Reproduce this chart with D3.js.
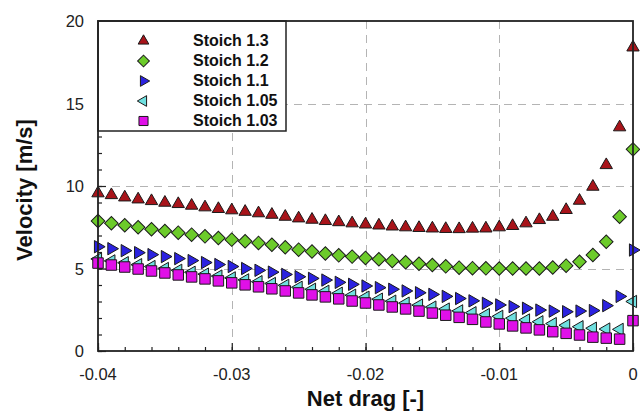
<!DOCTYPE html>
<html>
<head>
<meta charset="utf-8">
<script src="https://d3js.org/d3.v7.min.js"></script>
<style>
	body { margin: 0; background: #fff; }
	svg { display: block; font-family: "Liberation Sans", Arial, sans-serif; }
</style>
</head>
<body>
<svg id="chart" width="640" height="412"></svg>
<script>
(function(){

// net drag, -0.04 .. 0 in steps of 0.001
var netDrag = [
	-0.040, -0.039, -0.038, -0.037, -0.036, -0.035, -0.034, -0.033, -0.032, -0.031,
	-0.030, -0.029, -0.028, -0.027, -0.026, -0.025, -0.024, -0.023, -0.022, -0.021,
	-0.020, -0.019, -0.018, -0.017, -0.016, -0.015, -0.014, -0.013, -0.012, -0.011,
	-0.010, -0.009, -0.008, -0.007, -0.006, -0.005, -0.004, -0.003, -0.002, -0.001, 0
];

var stoich13 = [
	9.56, 9.45, 9.31, 9.19, 9.09, 8.99, 8.91, 8.81, 8.71, 8.61,
	8.53, 8.44, 8.35, 8.26, 8.14, 8.04, 7.96, 7.88, 7.81, 7.74,
	7.67, 7.61, 7.55, 7.50, 7.46, 7.43, 7.40, 7.39, 7.42, 7.43,
	7.50, 7.58, 7.74, 7.94, 8.14, 8.55, 9.11, 9.96, 11.27, 13.56, 18.4
];
var stoich12 = [
	7.88, 7.74, 7.62, 7.50, 7.38, 7.27, 7.17, 7.05, 6.95, 6.85,
	6.75, 6.65, 6.55, 6.44, 6.29, 6.14, 6.03, 5.91, 5.80, 5.72,
	5.64, 5.56, 5.46, 5.38, 5.29, 5.21, 5.13, 5.05, 5.02, 5.01,
	5.00, 5.00, 5.00, 5.00, 5.06, 5.17, 5.41, 5.82, 6.62, 8.14, 12.22
];
var stoich11 = [
	6.32, 6.20, 6.08, 5.96, 5.84, 5.72, 5.60, 5.48, 5.36, 5.24,
	5.12, 5.00, 4.89, 4.78, 4.64, 4.50, 4.40, 4.30, 4.16, 4.04,
	3.94, 3.84, 3.74, 3.64, 3.53, 3.43, 3.31, 3.18, 3.04, 2.89,
	2.79, 2.69, 2.59, 2.48, 2.42, 2.38, 2.42, 2.45, 2.75, 3.31, 6.12
];
var stoich105 = [
	5.58, 5.46, 5.35, 5.23, 5.12, 5.00, 4.89, 4.77, 4.66, 4.54,
	4.43, 4.31, 4.20, 4.09, 3.98, 3.86, 3.74, 3.62, 3.50, 3.38,
	3.26, 3.14, 3.02, 2.90, 2.78, 2.66, 2.54, 2.43, 2.32, 2.21,
	2.10, 1.99, 1.88, 1.77, 1.66, 1.56, 1.47, 1.38, 1.33, 1.31, 3.00
];
var stoich103 = [
	5.33, 5.21, 5.09, 4.97, 4.85, 4.73, 4.61, 4.49, 4.37, 4.25,
	4.13, 4.01, 3.89, 3.77, 3.64, 3.52, 3.40, 3.28, 3.16, 3.03,
	2.91, 2.79, 2.67, 2.55, 2.42, 2.30, 2.17, 2.04, 1.92, 1.76,
	1.64, 1.52, 1.40, 1.28, 1.17, 1.07, 0.97, 0.84, 0.78, 0.72, 1.84
];

var seriesNames = ["Stoich 1.3", "Stoich 1.2", "Stoich 1.1", "Stoich 1.05", "Stoich 1.03"];
var seriesValues = [stoich13, stoich12, stoich11, stoich105, stoich103];
var seriesColors = ["#a8141a", "#6ccb2a", "#2b22e0", "#6fe0e0", "#e010e8"];
var seriesShapes = ["up", "diamond", "right", "left", "square"];

var xTicks = [-0.04, -0.03, -0.02, -0.01, 0];
var xTickLabels = ["-0.04", "-0.03", "-0.02", "-0.01", "0"];
var yTicks = [0, 5, 10, 15, 20];


var margin = { left: 98, right: 7, top: 21, bottom: 61 };
var W = 640, H = 412;

var svg = d3.select("#chart");

var x = d3.scaleLinear().domain([-0.04, 0]).range([margin.left, W - margin.right]);
var y = d3.scaleLinear().domain([0, 20]).range([H - margin.bottom, margin.top]);

var x0 = x.range()[0], x1 = x.range()[1];
var y0 = y.range()[0], y1 = y.range()[1];

// dashed grid
var grid = svg.append("g").attr("class", "grid")
	.attr("stroke", "#b4b4b4")
	.attr("stroke-width", 1)
	.attr("stroke-dasharray", "8,6");

grid.selectAll("line.gx")
	.data(xTicks.slice(1, -1))
	.enter().append("line")
	.attr("class", "gx")
	.attr("x1", function(d) { return Math.round(x(d)) + 0.5; })
	.attr("x2", function(d) { return Math.round(x(d)) + 0.5; })
	.attr("y1", y0)
	.attr("y2", y1);

grid.selectAll("line.gy")
	.data(yTicks.slice(1, -1))
	.enter().append("line")
	.attr("class", "gy")
	.attr("y1", function(d) { return Math.round(y(d)) + 0.5; })
	.attr("y2", function(d) { return Math.round(y(d)) + 0.5; })
	.attr("x1", x0)
	.attr("x2", x1);

// axes, ticks pointing inward
var xMinor = d3.range(-0.04, 0.0001, 0.002);
var yMinor = d3.range(0, 20.001, 1);

var xAxisMinor = d3.axisTop(x).tickValues(xMinor).tickSize(4).tickFormat("");
var xAxisMajor = d3.axisTop(x).tickValues(xTicks).tickSize(8).tickFormat("");
var yAxisMinor = d3.axisRight(y).tickValues(yMinor).tickSize(4).tickFormat("");
var yAxisMajor = d3.axisRight(y).tickValues(yTicks).tickSize(8).tickFormat("");

function styleAxis(g) {
	g.select(".domain").remove();
	g.selectAll(".tick line").attr("stroke", "#222").attr("stroke-width", 1.2);
}

svg.append("g").attr("transform", "translate(0," + y0 + ")").call(xAxisMinor).call(styleAxis);
svg.append("g").attr("transform", "translate(0," + y0 + ")").call(xAxisMajor).call(styleAxis);
svg.append("g").attr("transform", "translate(" + x0 + ",0)").call(yAxisMinor).call(styleAxis);
svg.append("g").attr("transform", "translate(" + x0 + ",0)").call(yAxisMajor).call(styleAxis);

// tick labels
svg.append("g").selectAll("text")
	.data(xTicks)
	.enter().append("text")
	.attr("x", function(d) { return x(d); })
	.attr("y", 380)
	.attr("text-anchor", "middle")
	.attr("font-size", 16.5)
	.attr("fill", "#222")
	.text(function(d, i) { return xTickLabels[i]; });

svg.append("g").selectAll("text")
	.data(yTicks)
	.enter().append("text")
	.attr("x", x0 - 14)
	.attr("y", function(d) { return y(d) + 6; })
	.attr("text-anchor", "end")
	.attr("font-size", 16.5)
	.attr("fill", "#222")
	.text(function(d) { return d; });

// axis titles
svg.append("text")
	.attr("x", (x0 + x1) / 2)
	.attr("y", 406)
	.attr("text-anchor", "middle")
	.attr("font-size", 22)
	.attr("font-weight", "bold")
	.attr("fill", "#111")
	.text("Net drag [-]");

svg.append("text")
	.attr("transform", "translate(32,190) rotate(-90)")
	.attr("text-anchor", "middle")
	.attr("font-size", 22)
	.attr("font-weight", "bold")
	.attr("fill", "#111")
	.text("Velocity [m/s]");


// markers
function symbolFor(shape, small) {
	var k = small ? 0.75 : 1;
	if (shape === "square") return d3.symbol().type(d3.symbolSquare).size(110 * k);
	if (shape === "diamond") return d3.symbol().type(d3.symbolSquare).size(92 * k);
	return d3.symbol().type(d3.symbolTriangle).size(66 * k);
}

function rotationFor(shape) {
	if (shape === "diamond") return 45;
	if (shape === "right") return 90;
	if (shape === "left") return -90;
	return 0;
}

seriesValues.forEach(function(vals, s) {
	var shape = seriesShapes[s];
	svg.append("g").attr("class", "series")
		.selectAll("path")
		.data(vals)
		.enter().append("path")
		.attr("d", symbolFor(shape)())
		.attr("transform", function(v, i) {
			return "translate(" + x(netDrag[i]) + "," + y(v) + ") rotate(" + rotationFor(shape) + ")";
		})
		.attr("fill", seriesColors[s])
		.attr("stroke", "#1a1a1a")
		.attr("stroke-width", 1);
});

// legend (white box over the grid)
var legend = svg.append("g").attr("class", "legend");

legend.append("rect")
	.attr("x", x0)
	.attr("y", y1)
	.attr("width", 188)
	.attr("height", 110)
	.attr("fill", "#fff")
	.attr("stroke", "#222")
	.attr("stroke-width", 1.5);

var rows = legend.selectAll("g.row")
	.data(seriesNames)
	.enter().append("g")
	.attr("class", "row")
	.attr("transform", function(d, i) { return "translate(0," + (46 + i * 20) + ")"; });

rows.append("path")
	.attr("d", function(d, i) { return symbolFor(seriesShapes[i], true)(); })
	.attr("transform", function(d, i) { return "translate(143.5,-5) rotate(" + rotationFor(seriesShapes[i]) + ")"; })
	.attr("fill", function(d, i) { return seriesColors[i]; })
	.attr("stroke", "#1a1a1a")
	.attr("stroke-width", 1);

rows.append("text")
	.attr("x", 193)
	.attr("y", 0)
	.attr("font-size", 16)
	.attr("font-weight", "bold")
	.attr("fill", "#111")
	.text(function(d) { return d; });

// plot frame
svg.append("rect")
	.attr("x", x0)
	.attr("y", y1)
	.attr("width", x1 - x0)
	.attr("height", y0 - y1)
	.attr("fill", "none")
	.attr("stroke", "#222")
	.attr("stroke-width", 1.8);

})();
</script>
</body>
</html>
